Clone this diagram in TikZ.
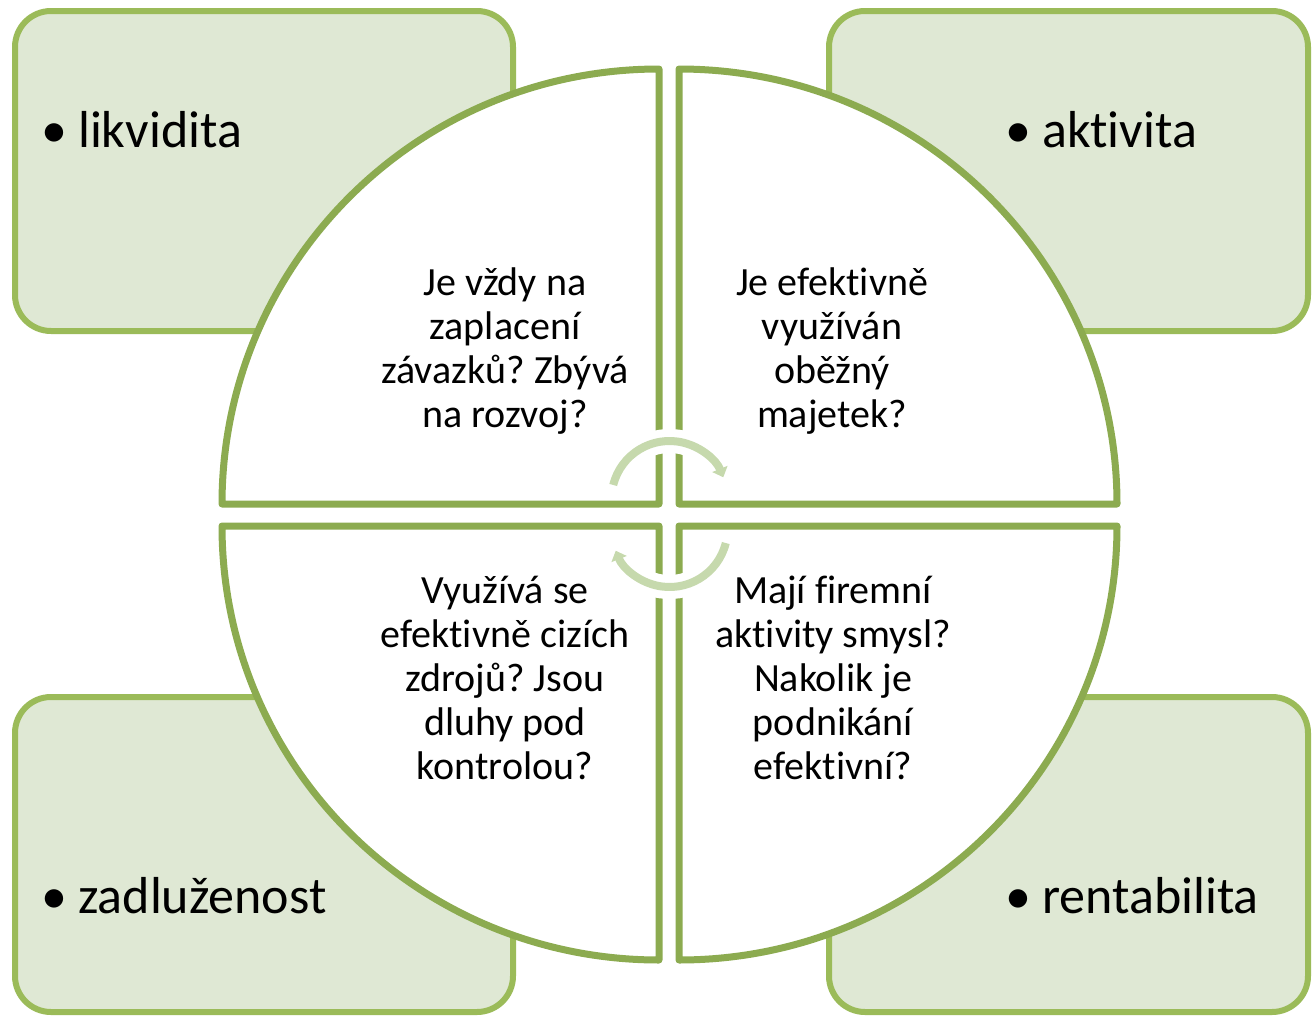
\documentclass[tikz,border=0pt]{standalone}
\usepackage{fontspec}
\setmainfont{Carlito}[Ligatures=NoCommon]
\usetikzlibrary{arrows.meta}

\definecolor{boxline}{HTML}{9BBB59}
\definecolor{quadline}{HTML}{8CAB50}
\definecolor{boxfill}{HTML}{DFE8D4}
\definecolor{cyclecol}{HTML}{C6D9AD}

\newcommand{\bulleted}[1]{\makebox[0pt][r]{•\hspace{11pt}}#1}

\begin{document}
\frenchspacing
\begin{tikzpicture}[x=1pt,y=-1pt,
  cornerbox/.style={draw=boxline, fill=boxfill, line width=6pt, rounded corners=36pt},
  quadrant/.style={draw=quadline, fill=white, line width=7pt, line join=round},
  label/.style={anchor=base west, inner sep=0pt, font=\fontsize{52}{62}\selectfont},
  question/.style={align=center, inner sep=0pt, font=\fontsize{40}{44}\selectfont},
  halo/.style={draw=white, line width=24pt},
  cyclearrow/.style={draw=cyclecol, line width=8pt, -{Triangle[length=9pt, width=16pt]}}
]
\useasboundingbox (0,0) rectangle (1312,1017);

% four corner boxes
\draw[cornerbox] (15,11) rectangle (513,331);
\draw[cornerbox] (829,11) rectangle (1308,331);
\draw[cornerbox] (15,697) rectangle (513,1012);
\draw[cornerbox] (829,697) rectangle (1308,1012);

\node[label] (liq) at (78,147) {\bulleted{likvidita}};
\node[label] (act) at (1042,147) {\bulleted{aktivita}};
\node[label] (debt) at (78,913) {\bulleted{zadluženost}};
\node[label] (prof) at (1042,913) {\bulleted{rentabilita}};

% the split circle
\draw[quadrant] (659,504) -- (659,69) arc[start angle=270, end angle=180, x radius=437, y radius=435] -- cycle;
\draw[quadrant] (679,504) -- (679,69) arc[start angle=270, end angle=360, x radius=438, y radius=435] -- cycle;
\draw[quadrant] (659,526) -- (222,526) arc[start angle=180, end angle=90, x radius=437, y radius=434] -- cycle;
\draw[quadrant] (679,526) -- (1117,526) arc[start angle=0, end angle=90, x radius=438, y radius=434] -- cycle;

\node[question] (qtl) at (505,351) {Je vždy na\\zaplacení\\závazků? Zbývá\\na rozvoj?};
\node[question] (qtr) at (832,351) {Je efektivně\\využíván\\oběžný\\majetek?};
\node[question] (qbl) at (505,678) {Využívá se\\efektivně cizích\\zdrojů? Jsou\\dluhy pod\\kontrolou?};
\node[question] (qbr) at (833,678) {Mají firemní\\aktivity smysl?\\Nakolik je\\podnikání\\efektivní?};

% cycle arrows in the middle
\coordinate (ctop) at (669.5,499);
\coordinate (cbot) at (669.5,529);
\draw[halo] ([shift={(194:58)}]ctop) arc[start angle=194, end angle=338, radius=58];
\draw[cyclearrow] ([shift={(194:58)}]ctop) arc[start angle=194, end angle=338, radius=58];
\draw[halo] ([shift={(14:58)}]cbot) arc[start angle=14, end angle=158, radius=58];
\draw[cyclearrow] ([shift={(14:58)}]cbot) arc[start angle=14, end angle=158, radius=58];
\end{tikzpicture}
\end{document}
